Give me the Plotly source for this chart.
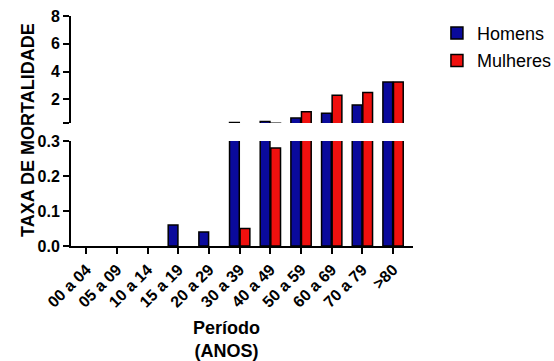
import plotly.graph_objects as go

categories = ["00 a 04", "05 a 09", "10 a 14", "15 a 19", "20 a 29", "30 a 39",
              "40 a 49", "50 a 59", "60 a 69", "70 a 79", ">80"]
homens = [0, 0, 0, 0.06, 0.04, 0.33, 0.40, 0.65, 1.0, 1.6, 3.25]
mulheres = [0, 0, 0, 0, 0, 0.05, 0.28, 1.1, 2.3, 2.5, 3.25]

lower_ticks = [0.0, 0.1, 0.2, 0.3]
lower_labels = ["0.0", "0.1", "0.2", "0.3"]
upper_ticks = [0.3, 2, 4, 6, 8]
upper_labels = ["", "2", "4", "6", "8"]

BLUE = "#0A0A9C"
RED = "#F0100E"
FONT = "Liberation Sans, Arial, sans-serif"

fig = go.Figure()
for name, vals, col in [("Homens", homens, BLUE), ("Mulheres", mulheres, RED)]:
    shown = [v if v > 0 else None for v in vals]
    for yax, show in [("y", True), ("y2", False)]:
        fig.add_trace(go.Bar(
            x=categories, y=shown, name=name, yaxis=yax, showlegend=show,
            legendgroup=name, offsetgroup=name,
            marker=dict(color=col, line=dict(color="black", width=1.5)),
        ))

axis_common = dict(showline=True, linecolor="black", linewidth=2, ticks="outside",
                   tickcolor="black", tickwidth=2, ticklen=6, showgrid=False,
                   zeroline=False, automargin=False,
                   tickfont=dict(family=FONT, size=16, color="black", weight="bold"))

title_font = dict(family=FONT, size=18, color="black", weight="bold")

fig.update_layout(
    width=554, height=361,
    margin=dict(l=71, r=141, t=16, b=115, autoexpand=False),
    paper_bgcolor="white", plot_bgcolor="white",
    barmode="group", bargap=0.31, bargroupgap=0.08,
    xaxis=dict(**axis_common, type="category", range=[-0.5, 10.65],
               tickangle=-45, anchor="y"),
    yaxis=dict(**axis_common, domain=[0, 0.4565], range=[0, 0.3],
               tickvals=lower_ticks, ticktext=lower_labels, anchor="x"),
    yaxis2=dict(**axis_common, domain=[0.535, 1], range=[0.3, 8],
                tickvals=upper_ticks, ticktext=upper_labels, anchor="x"),
    legend=dict(x=1.07, y=1.005, xanchor="left", yanchor="top",
                font=dict(family=FONT, size=18, color="black"),
                traceorder="grouped", tracegroupgap=1, bgcolor="rgba(0,0,0,0)"),
    font=dict(family=FONT, color="black"),
    annotations=[
        dict(text="TAXA DE MORTALIDADE", textangle=-90, xref="paper", yref="paper",
             x=-0.126, y=0.504, xanchor="center", yanchor="middle", showarrow=False,
             font=title_font),
        dict(text="Período<br>(ANOS)", xref="paper", yref="paper",
             x=0.456, y=-0.305, xanchor="center", yanchor="top", showarrow=False,
             font=title_font),
    ],
)

fig.write_html("out.html", config={"displayModeBar": False},
               post_script="document.body.style.margin='0';")
